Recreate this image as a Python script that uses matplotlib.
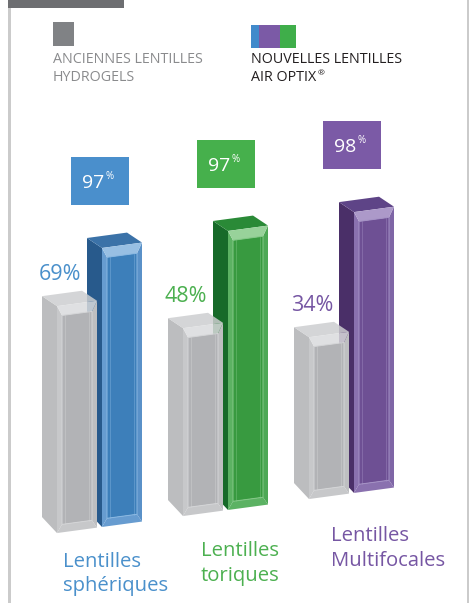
import numpy as np
import matplotlib.pyplot as plt
from matplotlib.patches import Polygon, Rectangle
from matplotlib.transforms import Affine2D

plt.rcParams['font.family'] = ['Open Sans', 'DejaVu Sans']

# data
categories = ['Lentilles\nsphériques', 'Lentilles\ntoriques', 'Lentilles\nMultifocales']
old_values = [69, 48, 34]      # anciennes lentilles hydrogels
new_values = [97, 97, 98]      # nouvelles lentilles Air Optix

# styles
label_colors = ['#4a90cb', '#4cb050', '#7656a3']
box_colors = ['#4a8fcc', '#46b04c', '#7b5aa6']
new_palettes = [
    dict(side='#285a8c', top='#3b72a8', bevel='#679cd0', rbevel='#5a91c8', hi='#98bfe3', core='#3d7fba', line='#8ab8e2'),
    dict(side='#176a29', top='#2a8a37', bevel='#5cb263', rbevel='#4ea856', hi='#98d29a', core='#389a40', line='#84c888'),
    dict(side='#4a2f68', top='#5e4487', bevel='#8a71af', rbevel='#7f66a6', hi='#ac99c9', core='#6e5094', line='#a592c6'),
]
gray_palette = dict(side='#bcbdbf', top='#cdced0', bevel='#c7c8ca', rbevel='#bebfc1', hi='#dadbdd', core='#b2b3b6', line='#d4d5d7')
cat_pos = [(63, 567), (201, 556), (331, 541)]   # first-line baseline of the category labels

W, H = 472, 603
K = 1.86            # px per percent point
FLOOR = -53         # bars start below zero (illustration style)
SKEW = 0.135 / K    # perspective: baseline rises to the right
XREF = 102
P0 = 428.4
group_x = 102 + 126 * np.arange(len(categories))   # front-left x of the new bars
bar_w = 40
gray_shift = 45
dx = 15

fig = plt.figure(figsize=(W / 100, H / 100), dpi=100)
bg = fig.add_axes([0, 0, 1, 1])
bg.set_xlim(0, W)
bg.set_ylim(H, 0)
bg.axis('off')

ax = fig.add_axes([0, 0, 1, 1])
ax.set_xlim(0, W)
ax.set_ylim((P0 - H) / K, P0 / K)
ax.axis('off')
tr = Affine2D(np.array([[1, 0, 0], [SKEW, 1, -SKEW * XREF], [0, 0, 1]])) + ax.transData


def to_px(x, y):
    dx_, dy_ = tr.transform((x, y))
    return dx_, H - dy_


def poly(pts, color, **kw):
    ax.add_patch(Polygon(pts, closed=True, facecolor=color, edgecolor='none', transform=tr, **kw))


def bar3d(x0, value, pal, alpha_top=1.0, w=bar_w, dyt=10, dyb=16):
    f, top = FLOOR, value
    t_up = dyt / K + SKEW * dx
    b_up = dyb / K + SKEW * dx
    poly([(x0, f), (x0, top), (x0 - dx, top + t_up), (x0 - dx, f + b_up)], pal['side'])
    poly([(x0, top), (x0 + w, top), (x0 + w - dx, top + t_up), (x0 - dx, top + t_up)],
         pal['top'], alpha=alpha_top)
    ix0, ix1 = x0 + 5, x0 + w - 5
    it, ib = top - 10 / K, f + 8 / K
    poly([(x0, f), (x0, top), (ix0, it), (ix0, ib)], pal['bevel'])
    poly([(x0 + w, f), (x0 + w, top), (ix1, it), (ix1, ib)], pal['rbevel'])
    poly([(x0, top), (x0 + w, top), (ix1, it), (ix0, it)], pal['hi'], alpha=alpha_top)
    poly([(x0, f), (x0 + w, f), (ix1, ib), (ix0, ib)], pal['bevel'])
    ax.add_patch(Polygon([(ix0, ib), (ix0, it), (ix1, it), (ix1, ib)], closed=True,
                         facecolor=pal['core'], edgecolor=pal['line'], lw=0.7, transform=tr))
    for xx in (ix0 + 3, ix1 - 3):
        ax.plot([xx, xx], [ib, it], color=pal['line'], lw=0.4, alpha=0.7, transform=tr)
    return t_up


fig.canvas.draw()
renderer = fig.canvas.get_renderer()
clip = Rectangle((0, 0), 447, H, transform=bg.transData)

for i, cat in enumerate(categories):
    x0 = group_x[i]
    t_up = bar3d(x0, new_values[i], new_palettes[i])
    bar3d(x0 - gray_shift, old_values[i], gray_palette, alpha_top=0.85)

    # value box above the new bar
    cx, by = to_px(x0 - 2, new_values[i] + t_up)
    by -= 31
    bg.add_patch(Rectangle((cx - 29, by - 48), 58, 48, facecolor=box_colors[i], edgecolor='none'))
    bg.text(cx + 4, by - 17, f'{new_values[i]}', color='white', fontsize=14,
            ha='right', va='baseline')
    bg.text(cx + 5, by - 26, '%', color='white', fontsize=7, ha='left', va='baseline')

    # value label above the old bar
    lx, ly = to_px(x0 - gray_shift + 3, old_values[i])
    bg.text(lx, ly - 26, f'{old_values[i]}%', color=label_colors[i], fontsize=15.5,
            ha='center', va='baseline')

    # category label, one text per line
    px, py = cat_pos[i]
    for j, line in enumerate(cat.split('\n')):
        t = bg.text(px, py + 24.5 * j, line, color=label_colors[i], fontsize=14.6,
                    ha='left', va='baseline')
        t.set_clip_path(clip)

# frame
bg.add_patch(Rectangle((8, 0), 116, 8, facecolor='#6d6e71', edgecolor='none'))
bg.add_patch(Rectangle((8, 8), 2.6, H, facecolor='#cbcbcb', edgecolor='none'))
bg.add_patch(Rectangle((466.5, 0), 2.6, H, facecolor='#cbcbcb', edgecolor='none'))

# legend
bg.add_patch(Rectangle((53, 22), 21, 24, facecolor='#808285', edgecolor='none'))
bg.text(53, 63, 'ANCIENNES LENTILLES', color='#8a8b8d', fontsize=10.3, ha='left', va='baseline')
bg.text(53, 81, 'HYDROGELS', color='#8a8b8d', fontsize=10.3, ha='left', va='baseline')
for x, w, c in [(251, 8, '#418acb'), (259, 21, '#7b5aa6'), (280, 16, '#3fae4a')]:
    bg.add_patch(Rectangle((x, 25), w, 23, facecolor=c, edgecolor='none'))
bg.text(251, 63, 'NOUVELLES LENTILLES', color='#231f20', fontsize=10.3, ha='left', va='baseline')
air = bg.text(251, 81, 'AIR OPTIX', color='#231f20', fontsize=10.3, ha='left', va='baseline')
ext = air.get_window_extent(renderer)
bg.text(ext.x1 + 1.5, 75, '®', color='#231f20', fontsize=6, ha='left', va='baseline')

fig.savefig('out.png', dpi=100)
